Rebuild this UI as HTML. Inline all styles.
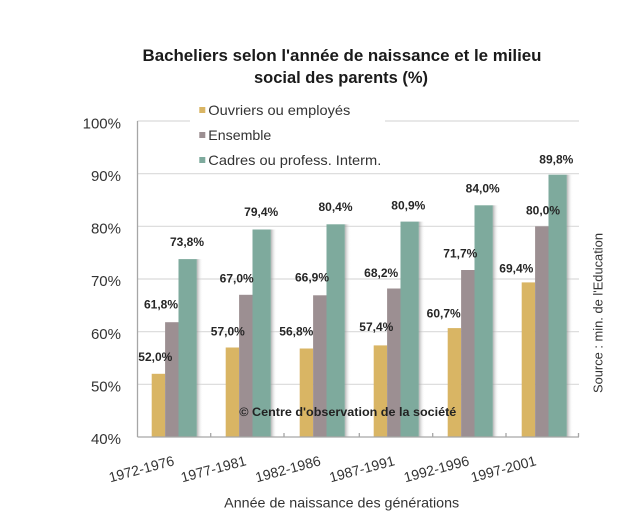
<!DOCTYPE html>
<html><head><meta charset="utf-8"><style>
html,body{margin:0;padding:0;background:#fff;}
svg{display:block;}
text{font-family:"Liberation Sans",sans-serif;}
</style></head><body>
<svg width="628" height="520" viewBox="0 0 628 520" xmlns="http://www.w3.org/2000/svg">
<defs>
<linearGradient id="sh" x1="0" y1="0" x2="1" y2="0">
<stop offset="0" stop-color="#9a9a9a" stop-opacity="0.75"/>
<stop offset="1" stop-color="#ffffff" stop-opacity="0"/>
</linearGradient>
</defs>
<rect width="628" height="520" fill="#fff"/>
<!-- title -->
<text x="342" y="61" text-anchor="middle" font-size="17" font-weight="bold" fill="#1a1a1a" textLength="399" lengthAdjust="spacingAndGlyphs">Bacheliers selon l'année de naissance et le milieu</text>
<text x="341" y="83" text-anchor="middle" font-size="17" font-weight="bold" fill="#1a1a1a" textLength="174" lengthAdjust="spacingAndGlyphs">social des parents (%)</text>
<!-- gridlines -->
<g stroke="#d9d9d9" stroke-width="1.2">
<line x1="137.5" y1="121" x2="579" y2="121"/>
<line x1="137.5" y1="173.7" x2="579" y2="173.7"/>
<line x1="137.5" y1="226.3" x2="579" y2="226.3"/>
<line x1="137.5" y1="279" x2="579" y2="279"/>
<line x1="137.5" y1="331.7" x2="579" y2="331.7"/>
<line x1="137.5" y1="384.3" x2="579" y2="384.3"/>
</g>
<!-- legend box -->
<rect x="190" y="97" width="195" height="72" fill="#fff"/>
<rect x="199.3" y="107" width="6" height="6" fill="#d9b564"/>
<text x="208.3" y="115" font-size="14" fill="#333" textLength="142" lengthAdjust="spacingAndGlyphs">Ouvriers ou employés</text>
<rect x="199.3" y="132" width="6" height="6" fill="#9c8f92"/>
<text x="208.3" y="140" font-size="14" fill="#333" textLength="63" lengthAdjust="spacingAndGlyphs">Ensemble</text>
<rect x="199.3" y="157" width="6" height="6" fill="#7eaa9d"/>
<text x="208.3" y="165" font-size="14" fill="#333" textLength="173" lengthAdjust="spacingAndGlyphs">Cadres ou profess. Interm.</text>
<!-- bars -->
<g>
<!-- group 1 -->
<rect x="151.7" y="373.8" width="13.4" height="63.2" fill="#d9b564"/>
<rect x="165.1" y="322.2" width="13.4" height="114.8" fill="#9c8f92"/>
<rect x="196.8" y="259.1" width="6" height="177.9" fill="url(#sh)"/>
<rect x="178.5" y="259.1" width="18.3" height="177.9" fill="#7eaa9d"/>
<!-- group 2 -->
<rect x="225.7" y="347.5" width="13.4" height="89.5" fill="#d9b564"/>
<rect x="239.1" y="294.8" width="13.4" height="142.2" fill="#9c8f92"/>
<rect x="270.8" y="229.5" width="6" height="207.5" fill="url(#sh)"/>
<rect x="252.5" y="229.5" width="18.3" height="207.5" fill="#7eaa9d"/>
<!-- group 3 -->
<rect x="299.7" y="348.5" width="13.4" height="88.5" fill="#d9b564"/>
<rect x="313.1" y="295.3" width="13.4" height="141.7" fill="#9c8f92"/>
<rect x="344.8" y="224.3" width="6" height="212.7" fill="url(#sh)"/>
<rect x="326.5" y="224.3" width="18.3" height="212.7" fill="#7eaa9d"/>
<!-- group 4 -->
<rect x="373.7" y="345.4" width="13.4" height="91.6" fill="#d9b564"/>
<rect x="387.1" y="288.5" width="13.4" height="148.5" fill="#9c8f92"/>
<rect x="418.8" y="221.6" width="6" height="215.4" fill="url(#sh)"/>
<rect x="400.5" y="221.6" width="18.3" height="215.4" fill="#7eaa9d"/>
<!-- group 5 -->
<rect x="447.7" y="328.1" width="13.4" height="108.9" fill="#d9b564"/>
<rect x="461.1" y="270" width="13.4" height="167" fill="#9c8f92"/>
<rect x="492.8" y="205.3" width="6" height="231.7" fill="url(#sh)"/>
<rect x="474.5" y="205.3" width="18.3" height="231.7" fill="#7eaa9d"/>
<!-- group 6 -->
<rect x="521.7" y="282.4" width="13.4" height="154.6" fill="#d9b564"/>
<rect x="535.1" y="226.3" width="13.4" height="210.7" fill="#9c8f92"/>
<rect x="566.8" y="174.7" width="6" height="262.3" fill="url(#sh)"/>
<rect x="548.5" y="174.7" width="18.3" height="262.3" fill="#7eaa9d"/>
</g>
<!-- axes -->
<g stroke="#a6a6a6" stroke-width="1.3">
<line x1="137.5" y1="121" x2="137.5" y2="437"/>
<line x1="137.5" y1="437" x2="579" y2="437"/>
<line x1="210.7" y1="433" x2="210.7" y2="437"/>
<line x1="284" y1="433" x2="284" y2="437"/>
<line x1="359.3" y1="433" x2="359.3" y2="437"/>
<line x1="432.7" y1="433" x2="432.7" y2="437"/>
<line x1="506" y1="433" x2="506" y2="437"/>
<line x1="578.5" y1="433" x2="578.5" y2="437"/>
</g>
<!-- y ticks -->
<g font-size="15" fill="#333" text-anchor="end">
<text x="121" y="128.5">100%</text>
<text x="121" y="181">90%</text>
<text x="121" y="233.5">80%</text>
<text x="121" y="286">70%</text>
<text x="121" y="339">60%</text>
<text x="121" y="391.5">50%</text>
<text x="121" y="444">40%</text>
</g>
<!-- data labels -->
<g font-size="12" font-weight="bold" fill="#262626" text-anchor="middle">
<text x="155.3" y="361">52,0%</text>
<text x="161" y="308.3">61,8%</text>
<text x="187" y="246">73,8%</text>
<text x="227.8" y="335.3">57,0%</text>
<text x="236.7" y="282.6">67,0%</text>
<text x="261.2" y="216">79,4%</text>
<text x="296.3" y="335.3">56,8%</text>
<text x="312" y="281.6">66,9%</text>
<text x="335.5" y="211">80,4%</text>
<text x="376.3" y="331">57,4%</text>
<text x="381.2" y="277">68,2%</text>
<text x="408.3" y="209.3">80,9%</text>
<text x="443.7" y="317.6">60,7%</text>
<text x="460.3" y="257.6">71,7%</text>
<text x="482.7" y="192.6">84,0%</text>
<text x="516.3" y="272.6">69,4%</text>
<text x="543" y="214.3">80,0%</text>
<text x="556.3" y="163.6">89,8%</text>
</g>
<!-- copyright -->
<text x="239.3" y="416" font-size="12" font-weight="bold" fill="#222" textLength="217" lengthAdjust="spacingAndGlyphs">© Centre d'observation de la  société</text>
<!-- source -->
<text transform="translate(602.5,313) rotate(-90)" text-anchor="middle" font-size="13" fill="#333" textLength="160" lengthAdjust="spacingAndGlyphs">Source : min. de l'Education</text>
<!-- x labels -->
<g font-size="14" fill="#333" text-anchor="end">
<text transform="translate(175,465) rotate(-15)">1972-1976</text>
<text transform="translate(247,465) rotate(-15)">1977-1981</text>
<text transform="translate(321.5,465) rotate(-15)">1982-1986</text>
<text transform="translate(395.5,465) rotate(-15)">1987-1991</text>
<text transform="translate(470,465) rotate(-15)">1992-1996</text>
<text transform="translate(537,465) rotate(-15)">1997-2001</text>
</g>
<text x="341.7" y="507.5" text-anchor="middle" font-size="14" fill="#333" textLength="235" lengthAdjust="spacingAndGlyphs">Année de naissance des générations</text>
</svg>
</body></html>
